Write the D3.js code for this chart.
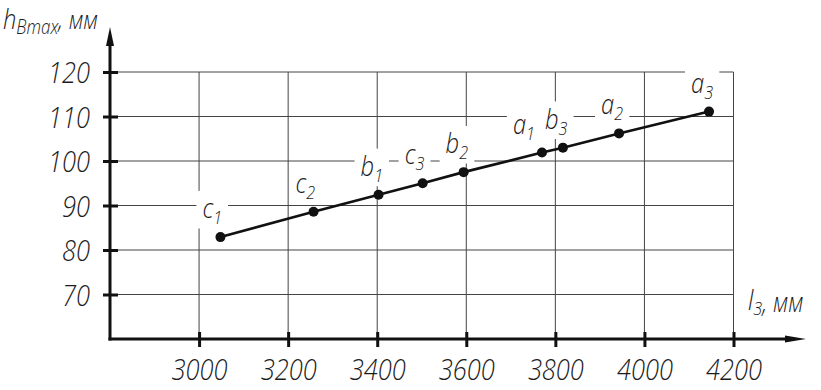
<!DOCTYPE html>
<html>
<head>
<meta charset="utf-8">
<script src="https://cdn.jsdelivr.net/npm/d3@7/dist/d3.min.js"></script>
<style>
    body { margin: 0; background: #fff; }
    .chart_component text {
        font-family: "Open Sans", "DejaVu Sans", sans-serif;
        font-style: italic;
        font-weight: 300;
        fill: #1c1c1c;
    }
</style>
</head>
<body>
<div class="chart_component"></div>
<script>
//<data>--------------------------------------//
var pointLetters = ["c", "c", "b", "c", "b", "a", "b", "a", "a"];
var pointIndexes = ["1", "2", "1", "3", "2", "1", "3", "2", "3"];
var lengthValues = [3048, 3257, 3403, 3502, 3594, 3770, 3817, 3943, 4145];
var heightValues = [82.9, 88.6, 92.4, 95.0, 97.5, 101.9, 103.0, 106.2, 111.1];
var xTicks = [3000, 3200, 3400, 3600, 3800, 4000, 4200];
var yTicks = [70, 80, 90, 100, 110, 120];
var xTitle = ["l", "3", ", мм"];
var yTitle = ["h", "Bmax", ",  мм"];

//<size>--------------------------------------//
var W = 821, H = 390;
var plot = { left: 110, right: 733.5, top: 72, bottom: 339 };

var x = d3.scaleLinear().domain([2800, 4200]).range([plot.left, plot.right]);
var y = d3.scaleLinear().domain([60, 120]).range([plot.bottom, plot.top]);

var svg = d3.select(".chart_component").append("svg")
    .attr("width", W).attr("height", H)
    .attr("viewBox", "0 0 " + W + " " + H);

//<narrow font: squeeze text horizontally so "3000" is ~56px wide>--//
var probe = svg.append("text").text("3000").style("font-size", "30px");
var k = 56 / probe.node().getComputedTextLength();
probe.remove();
function squeeze(sel) {
    sel.each(function () {
        var t = d3.select(this);
        var ax = +t.attr("x") || 0;
        t.attr("transform", "translate(" + ax + ",0) scale(" + k + ",1) translate(" + (-ax) + ",0)");
    });
}

//<grid>--------------------------------------//
var grid = svg.append("g").attr("id", "grid")
    .attr("stroke", "#444").attr("stroke-width", 1);
grid.selectAll(".vline").data(xTicks).enter().append("line")
    .attr("x1", d => x(d)).attr("x2", d => x(d))
    .attr("y1", y(120)).attr("y2", y(60));
grid.selectAll(".hline").data(yTicks).enter().append("line")
    .attr("x1", x(2800)).attr("x2", x(4200))
    .attr("y1", d => y(d)).attr("y2", d => y(d));

//<point labels with white boxes>--------------//
var labels = svg.append("g").attr("id", "pointLabels");
var boxes = [];
lengthValues.forEach(function (v, i) {
    var g = labels.append("g");
    var t = g.append("text");
    t.append("tspan").text(pointLetters[i]).style("font-size", "28px");
    t.append("tspan").text(pointIndexes[i]).attr("dy", 6).style("font-size", "19px");
    squeeze(t);
    var bb = g.node().getBBox();
    g.insert("rect", "text")
        .attr("x", bb.x - 6).attr("y", bb.y + 3)
        .attr("width", bb.width + 12).attr("height", bb.height - 4)
        .attr("fill", "#fff");
    boxes.push({ g: g, left: x(v) - 18, top: y(heightValues[i]) - 19, w: bb.width });
});
// push a label left when it runs into the next one
for (var i = boxes.length - 2; i >= 0; i--) {
    var a = boxes[i], b = boxes[i + 1];
    if (a.left + a.w + 10 > b.left && Math.abs(a.top - b.top) < 20) a.left = b.left - a.w - 10;
}
boxes.forEach(function (b) { b.g.attr("transform", "translate(" + b.left + "," + b.top + ")"); });

//<line + points>------------------------------//
var line = d3.line().x(d => x(d[0])).y(d => y(d[1]));
var pts = lengthValues.map((v, i) => [v, heightValues[i]]);
svg.append("path").datum(pts)
    .attr("d", line)
    .attr("fill", "none").attr("stroke", "#111").attr("stroke-width", 2.6);
svg.append("g").selectAll("circle").data(pts).enter().append("circle")
    .attr("cx", d => x(d[0])).attr("cy", d => y(d[1]))
    .attr("r", 5).attr("fill", "#111");

//<axes>--------------------------------------//
var yAxis = svg.append("g").attr("transform", "translate(" + plot.left + ",0)")
    .call(d3.axisLeft(y).tickValues(yTicks).tickFormat(d3.format("d")).tickSizeOuter(0).tickSizeInner(7));
yAxis.select(".domain").remove();
yAxis.selectAll(".tick line").attr("x1", 8).attr("x2", -7)
    .attr("stroke", "#111").attr("stroke-width", 3);
yAxis.selectAll(".tick text").attr("x", -20).attr("dy", "0.35em")
    .style("font-size", "30px").call(squeeze);

var xAxis = svg.append("g").attr("transform", "translate(0," + plot.bottom + ")")
    .call(d3.axisBottom(x).tickValues(xTicks).tickFormat(d3.format("d")).tickSizeOuter(0).tickSizeInner(7));
xAxis.select(".domain").remove();
xAxis.selectAll(".tick line").attr("y1", -7).attr("y2", 8)
    .attr("stroke", "#111").attr("stroke-width", 3);
xAxis.selectAll(".tick text").attr("y", 41).attr("dy", 0)
    .style("font-size", "30px").call(squeeze);

var axisLines = svg.append("g").attr("stroke", "#111").attr("stroke-width", 3);
axisLines.append("line").attr("x1", plot.left).attr("x2", plot.left)
    .attr("y1", plot.bottom + 1.5).attr("y2", 42);
axisLines.append("line").attr("x1", plot.left - 1.5).attr("x2", 790)
    .attr("y1", plot.bottom).attr("y2", plot.bottom);
svg.append("path")
    .attr("d", "M" + plot.left + ",27L" + (plot.left - 4) + ",46L" + (plot.left + 4) + ",46Z")
    .attr("fill", "#111");
svg.append("path")
    .attr("d", "M806," + plot.bottom + "L785," + (plot.bottom - 3.5) + "L785," + (plot.bottom + 3.5) + "Z")
    .attr("fill", "#111");

//<axis titles>--------------------------------//
var yT = svg.append("text").attr("x", 3).attr("y", 29);
yT.append("tspan").text(yTitle[0]).style("font-size", "28px");
yT.append("tspan").text(yTitle[1]).attr("dy", 5).style("font-size", "20px");
yT.append("tspan").text(yTitle[2]).attr("dy", -5).style("font-size", "26px");
squeeze(yT);

var xT = svg.append("text").attr("x", 748).attr("y", 310);
xT.append("tspan").text(xTitle[0]).style("font-size", "28px");
xT.append("tspan").text(xTitle[1]).attr("dy", 5).style("font-size", "19px");
xT.append("tspan").text(xTitle[2]).attr("dy", -3).style("font-size", "27px");
squeeze(xT);
</script>
</body>
</html>
